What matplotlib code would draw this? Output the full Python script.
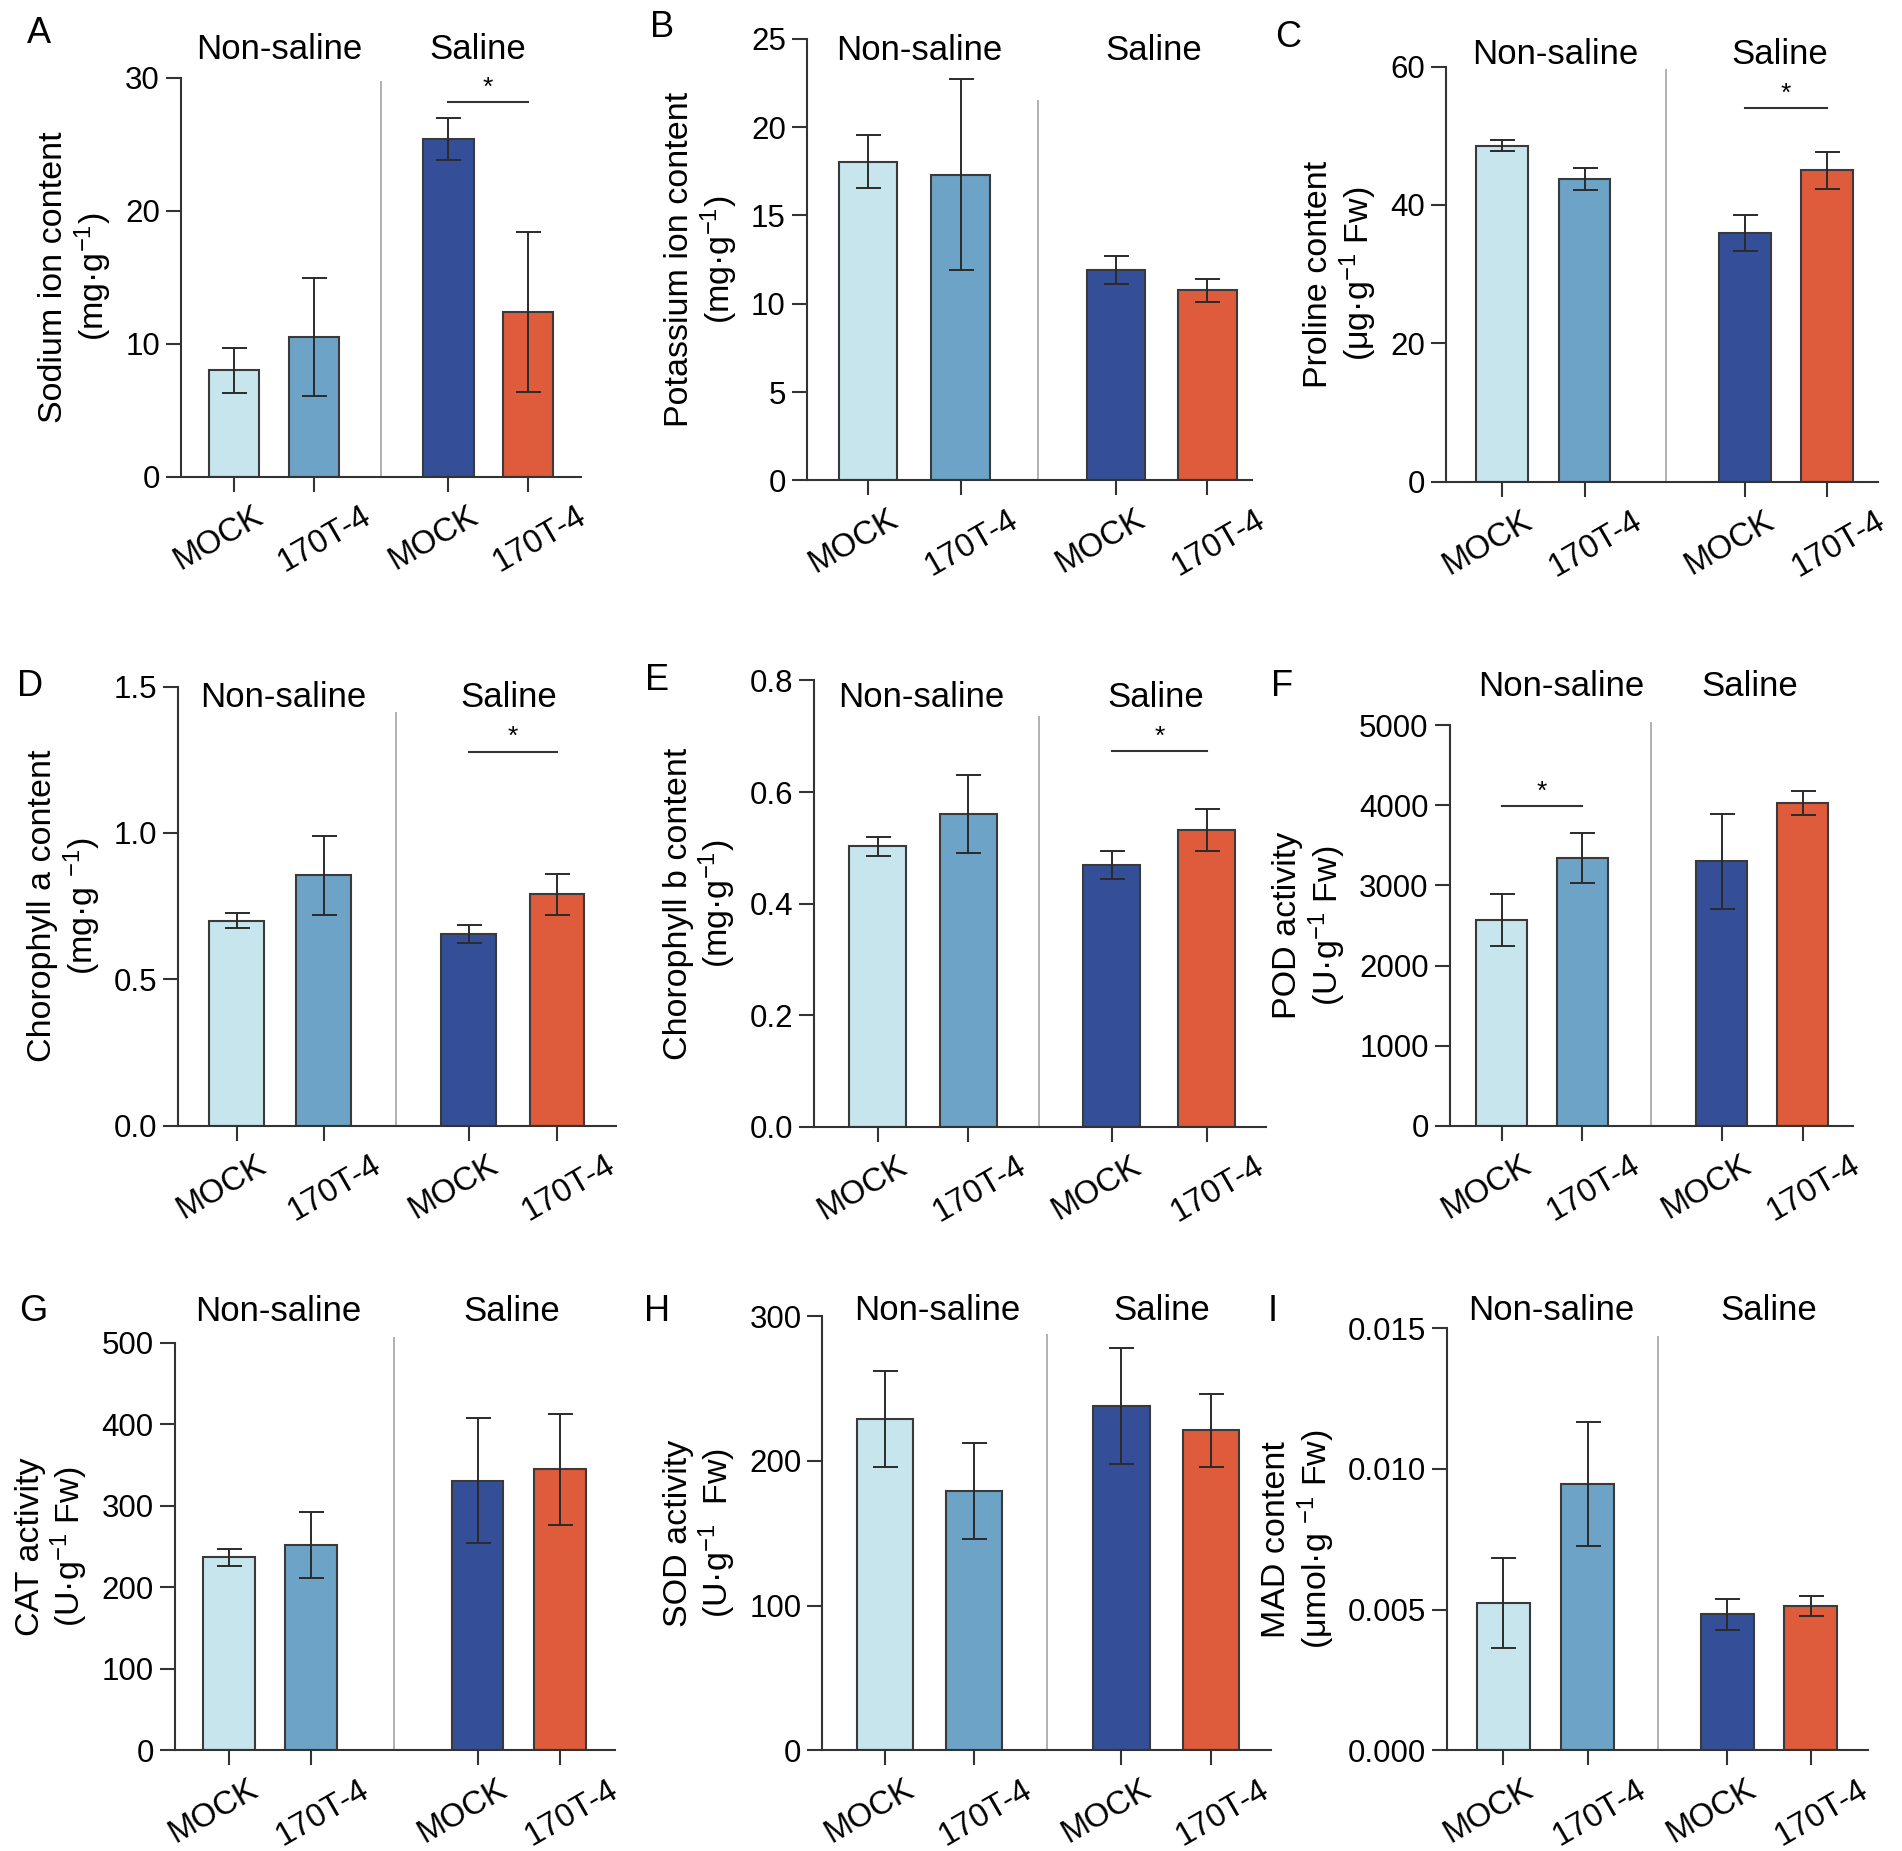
import numpy as np
import matplotlib
matplotlib.use('Agg')
import matplotlib.pyplot as plt
import matplotlib.transforms as mtransforms

plt.rcParams['font.family'] = ['Liberation Sans', 'DejaVu Sans']
plt.rcParams['mathtext.fontset'] = 'custom'
plt.rcParams['mathtext.rm'] = 'Liberation Sans'
plt.rcParams['mathtext.default'] = 'regular'

# --- data (means and error bars) ---
groups = ['Non-saline', 'Saline']
treatments = ['MOCK', '170T-4', 'MOCK', '170T-4']

sodium_mean = [8.0, 10.5, 25.4, 12.4]
sodium_err = [1.7, 4.4, 1.6, 6.0]
potassium_mean = [18.05, 17.3, 11.9, 10.75]
potassium_err = [1.5, 5.4, 0.8, 0.65]
proline_mean = [48.6, 43.7, 35.9, 45.0]
proline_err = [0.8, 1.6, 2.6, 2.7]
chla_mean = [0.70, 0.855, 0.655, 0.79]
chla_err = [0.025, 0.135, 0.03, 0.07]
chlb_mean = [0.503, 0.561, 0.47, 0.532]
chlb_err = [0.017, 0.07, 0.025, 0.037]
pod_mean = [2570, 3340, 3300, 4030]
pod_err = [320, 310, 590, 150]
cat_mean = [237, 252, 331, 345]
cat_err = [10.5, 40, 77, 68]
sod_mean = [229, 179, 238, 221]
sod_err = [33, 33, 40, 25]
mad_mean = [0.00522, 0.00947, 0.00484, 0.00514]
mad_err = [0.0016, 0.0022, 0.00055, 0.00035]

colors = ['#c6e5ec', '#6da3c6', '#344f97', '#de5b3c']

# --- layout, in pixels of a 1568 x 1526 canvas ---
W, H = 1568.0, 1526.0

panels = [
    dict(letter='A', mean=sodium_mean, err=sodium_err,
         ylabel='Sodium ion content\n(mg·g$^{-1}$)',
         yticks=[0, 10, 20, 30], fmt='{:.0f}',
         box=(149, 479, 64, 393), letter_xy=(32, 28), group_y=41,
         pos=[0, 1, 2.686, 3.68], xlim=(-0.665, 4.345), div=1.845, div_top=29.7,
         group_x=[0.57, 3.05], sig=(2, 3, 28.15)),
    dict(letter='B', mean=potassium_mean, err=potassium_err,
         ylabel='Potassium ion content\n(mg·g$^{-1}$)',
         yticks=[0, 5, 10, 15, 20, 25], fmt='{:.0f}',
         box=(665, 1032, 32, 396), letter_xy=(546, 23), group_y=42,
         pos=[0, 1, 2.68, 3.67], xlim=(-0.665, 4.15), div=1.835, div_top=21.5,
         group_x=[0.55, 3.09], sig=None),
    dict(letter='C', mean=proline_mean, err=proline_err,
         ylabel='Proline content\n(μg·g$^{-1}$ Fw)',
         yticks=[0, 20, 40, 60], fmt='{:.0f}',
         box=(1192, 1548, 55, 397), letter_xy=(1062, 31), group_y=45,
         pos=[0, 1, 2.95, 3.95], xlim=(-0.685, 4.565), div=1.985, div_top=59.5,
         group_x=[0.65, 3.37], sig=(2, 3, 54.1)),
    dict(letter='D', mean=chla_mean, err=chla_err,
         ylabel='Chorophyll a content\n(mg·g $^{-1}$)',
         yticks=[0.0, 0.5, 1.0, 1.5], fmt='{:.1f}',
         box=(147, 508, 566, 928), letter_xy=(25, 566), group_y=575,
         pos=[0, 1, 2.665, 3.68], xlim=(-0.67, 4.36), div=1.83, div_top=1.41,
         group_x=[0.54, 3.13], sig=(2, 3, 1.278)),
    dict(letter='E', mean=chlb_mean, err=chlb_err,
         ylabel='Chorophyll b content\n(mg·g$^{-1}$)',
         yticks=[0.0, 0.2, 0.4, 0.6, 0.8], fmt='{:.1f}',
         box=(671, 1044, 561, 929), letter_xy=(542, 561), group_y=575,
         pos=[0, 1, 2.59, 3.64], xlim=(-0.705, 4.3), div=1.786, div_top=0.735,
         group_x=[0.48, 3.08], sig=(2, 3, 0.673)),
    dict(letter='F', mean=pod_mean, err=pod_err,
         ylabel='POD activity\n(U·g$^{-1}$ Fw)',
         yticks=[0, 1000, 2000, 3000, 4000, 5000], fmt='{:.0f}',
         box=(1195, 1528, 598, 928), letter_xy=(1057, 566), group_y=566,
         pos=[0, 1, 2.725, 3.73], xlim=(-0.648, 4.36), div=1.855, div_top=5030,
         group_x=[0.74, 3.07], sig=(0, 1, 3997)),
    dict(letter='G', mean=cat_mean, err=cat_err,
         ylabel='CAT activity\n(U·g$^{-1}$ Fw)',
         yticks=[0, 100, 200, 300, 400, 500], fmt='{:.0f}',
         box=(144, 507, 1107, 1443), letter_xy=(27, 1081), group_y=1081,
         pos=[0, 1, 3.02, 4.02], xlim=(-0.66, 4.69), div=2.0, div_top=506,
         group_x=[0.6, 3.43], sig=None),
    dict(letter='H', mean=sod_mean, err=sod_err,
         ylabel='SOD activity\n(U·g$^{-1}$  Fw)',
         yticks=[0, 100, 200, 300], fmt='{:.0f}',
         box=(678, 1048, 1085, 1443), letter_xy=(542, 1081), group_y=1080,
         pos=[0, 1, 2.645, 3.65], xlim=(-0.696, 4.32), div=1.816, div_top=287,
         group_x=[0.59, 3.1], sig=None),
    dict(letter='I', mean=mad_mean, err=mad_err,
         ylabel='MAD content\n(μmol·g $^{-1}$ Fw)',
         yticks=[0.0, 0.005, 0.010, 0.015], fmt='{:.3f}',
         box=(1193, 1540, 1095, 1443), letter_xy=(1049, 1081), group_y=1080,
         pos=[0, 1, 2.65, 3.64], xlim=(-0.668, 4.32), div=1.834, div_top=0.01467,
         group_x=[0.57, 3.14], sig=None),
]

# horizontal nudge of the rotated x labels (points)
label_dx = [-11, 8, -11, 8]

fig = plt.figure(figsize=(19.02, 18.51), dpi=100)

for p in panels:
    l, r, t, b = p['box']
    ax = fig.add_axes([l / W, 1 - b / H, (r - l) / W, (b - t) / H])
    ymax = p['yticks'][-1]

    ax.bar(p['pos'], p['mean'], width=0.63, color=colors,
           edgecolor='#3a3a3a', linewidth=1.5, zorder=2,
           yerr=p['err'], capsize=9,
           error_kw=dict(ecolor='#2a2a2a', elinewidth=1.4, capthick=1.4, zorder=3))

    ax.set_xlim(*p['xlim'])
    ax.set_ylim(0, ymax)
    ax.spines['top'].set_visible(False)
    ax.spines['right'].set_visible(False)
    for s in ['left', 'bottom']:
        ax.spines[s].set_linewidth(1.5)
        ax.spines[s].set_color('#333333')

    ax.set_yticks(p['yticks'])
    ax.set_yticklabels([p['fmt'].format(v) for v in p['yticks']])
    ax.set_xticks(p['pos'])
    ax.set_xticklabels(treatments, rotation=30, ha='center')
    ax.tick_params(axis='both', direction='out', length=11, width=1.5,
                   color='#333333', labelsize=22.5, pad=4)
    ax.tick_params(axis='x', labelsize=23.5, pad=6)
    for lbl, dx in zip(ax.get_xticklabels(), label_dx):
        lbl.set_transform(lbl.get_transform() +
                          mtransforms.ScaledTranslation(dx / 72, 0, fig.dpi_scale_trans))

    ax.set_ylabel(p['ylabel'], fontsize=24.5, linespacing=1.1, labelpad=8)

    # saline / non-saline divider
    ax.plot([p['div'], p['div']], [0, p['div_top']], color='#b0b0b0',
            lw=1.4, zorder=1, clip_on=False)

    # group headings
    trans = mtransforms.blended_transform_factory(ax.transData, fig.transFigure)
    for gx, g in zip(p['group_x'], groups):
        ax.text(gx, 1 - p['group_y'] / H, g, transform=trans,
                ha='center', va='center', fontsize=25)

    # significance bracket
    if p['sig'] is not None:
        i, j, ys = p['sig']
        ax.plot([p['pos'][i], p['pos'][j]], [ys, ys], color='#333333',
                lw=1.5, clip_on=False)
        ax.text((p['pos'][i] + p['pos'][j]) / 2, ys + ymax * 0.005, '*',
                ha='center', va='bottom', fontsize=19)

    lx, ly = p['letter_xy']
    fig.text(lx / W, 1 - ly / H, p['letter'], ha='center', va='center',
             fontsize=26)

fig.savefig('out.png', dpi=100, facecolor='white')
